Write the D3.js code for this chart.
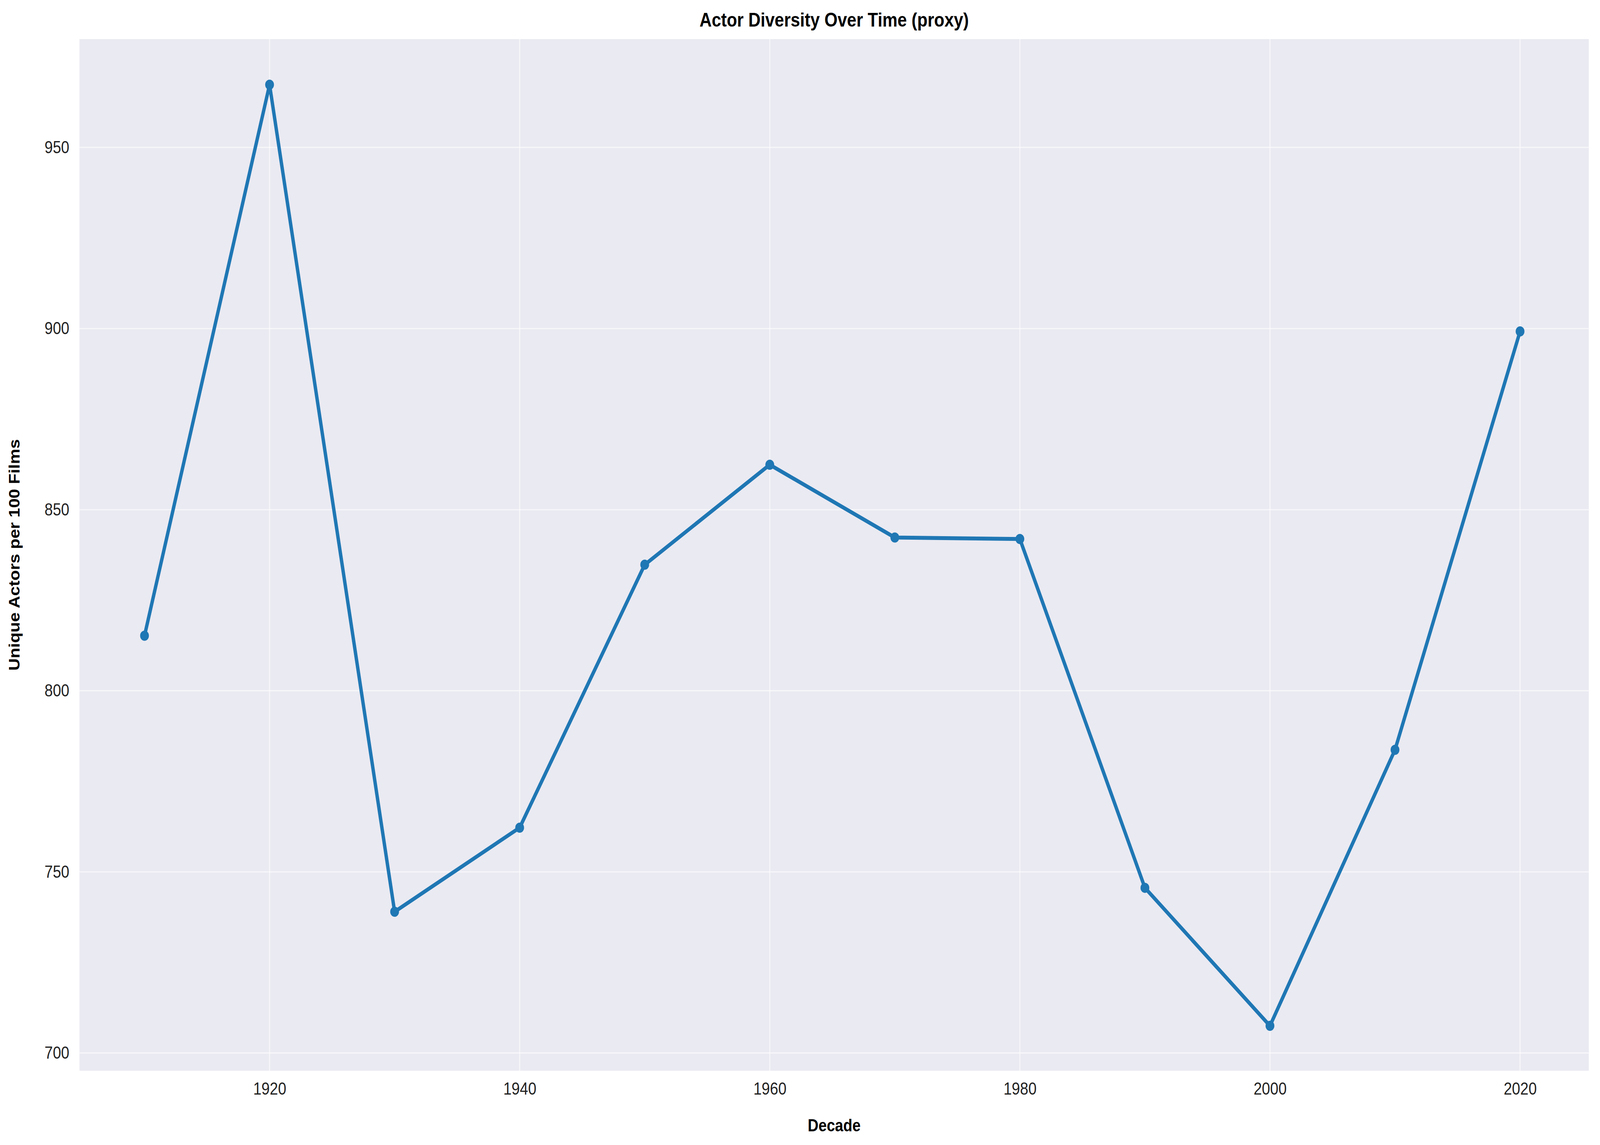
<!DOCTYPE html>
<html><head><meta charset="utf-8">
<script src="https://cdn.jsdelivr.net/npm/d3@7"></script>
<style>html,body{margin:0;padding:0;background:#fff;overflow:hidden}svg{display:block;width:100vw;height:100vh}text{font-family:"Liberation Sans",Arial,sans-serif}</style>
</head><body>
<script>
// decade values
var decades = [1910, 1920, 1930, 1940, 1950, 1960, 1970, 1980, 1990, 2000, 2010, 2020];
var actors = [815.2, 967.3, 739, 762.2, 834.8, 862.4, 842.3, 841.9, 745.6, 707.5, 783.7, 899.2];
var xTicks = [1920, 1940, 1960, 1980, 2000, 2020];
var yTicks = [700, 750, 800, 850, 900, 950];

var svgWidth = 4730, svgHeight = 2930;
var margin = {top: 100, right: 33, bottom: 190, left: 235};
var width = svgWidth - margin.left - margin.right;
var height = svgHeight - margin.top - margin.bottom;

var svg = d3.select("body").append("svg")
  .attr("viewBox", `0 0 ${svgWidth} ${svgHeight}`)
  .attr("preserveAspectRatio", "none");
var chartGroup = svg.append("g")
  .attr("transform", `translate(${margin.left}, ${margin.top})`);

var x = d3.scaleLinear().domain([1904.8, 2025.5]).range([0, width]);
var y = d3.scaleLinear().domain([695.1, 979.9]).range([height, 0]);

chartGroup.append("rect").attr("width", width).attr("height", height).attr("fill", "#eaeaf2");

// grid
chartGroup.selectAll(".gx").data(xTicks).enter().append("line")
  .attr("x1", d => x(d)).attr("x2", d => x(d)).attr("y1", 0).attr("y2", height)
  .attr("stroke", "#fff").attr("stroke-opacity", 0.6).attr("stroke-width", 3);
chartGroup.selectAll(".gy").data(yTicks).enter().append("line")
  .attr("y1", d => y(d)).attr("y2", d => y(d)).attr("x1", 0).attr("x2", width)
  .attr("stroke", "#fff").attr("stroke-opacity", 0.6).attr("stroke-width", 3);

var xAxis = chartGroup.append("g").attr("transform", `translate(0, ${height})`)
  .call(d3.axisBottom(x).tickValues(xTicks).tickFormat(d3.format("d")).tickSize(0).tickPadding(30));
var yAxis = chartGroup.append("g")
  .call(d3.axisLeft(y).tickValues(yTicks).tickSize(0).tickPadding(30));
[xAxis, yAxis].forEach(a => {
  a.select(".domain").remove();
  a.selectAll("text").attr("font-size", 44).attr("fill", "#222");
});

var line = d3.line().x((d, i) => x(decades[i])).y(d => y(d));
chartGroup.append("path").datum(actors).attr("d", line)
  .attr("fill", "none").attr("stroke", "#1f77b4").attr("stroke-width", 10).attr("stroke-linejoin", "round");
chartGroup.selectAll("circle").data(actors).enter().append("circle")
  .attr("cx", (d, i) => x(decades[i])).attr("cy", d => y(d)).attr("r", 13).attr("fill", "#1f77b4");

svg.append("text").attr("x", margin.left + width / 2).attr("y", 68)
  .attr("text-anchor", "middle").attr("font-size", 50).attr("font-weight", "bold")
  .text("Actor Diversity Over Time (proxy)");
svg.append("text").attr("x", margin.left + width / 2).attr("y", 2895)
  .attr("text-anchor", "middle").attr("font-size", 44).attr("font-weight", "bold").text("Decade");
svg.append("text").attr("transform", `translate(58, ${margin.top + height / 2}) rotate(-90)`)
  .attr("text-anchor", "middle").attr("font-size", 44).attr("font-weight", "bold")
  .text("Unique Actors per 100 Films");
</script>
</body></html>
